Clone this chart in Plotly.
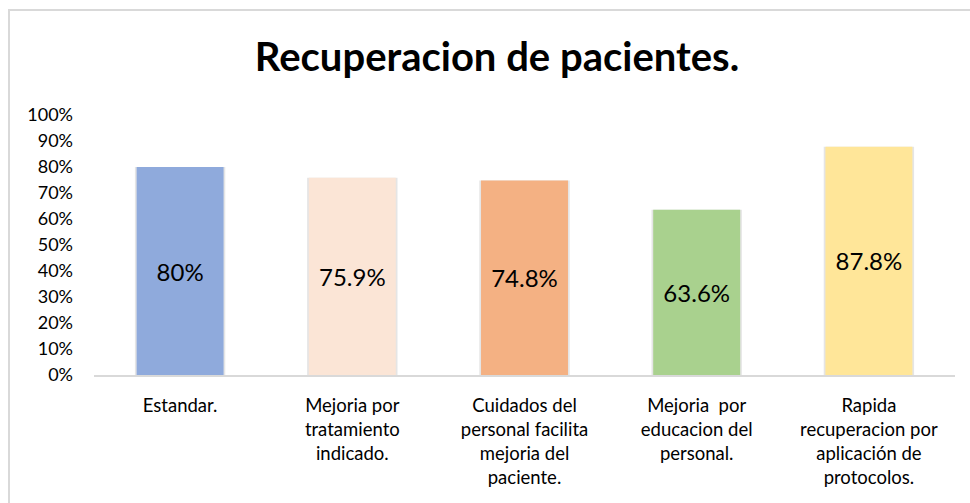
import plotly.graph_objects as go

categories = [
    "Estandar.",
    "Mejoria por<br>tratamiento<br>indicado.",
    "Cuidados del<br>personal facilita<br>mejoria del<br>paciente.",
    "Mejoria  por<br>educacion del<br>personal.",
    "Rapida<br>recuperacion por<br>aplicación de<br>protocolos.",
]
values = [0.80, 0.759, 0.748, 0.636, 0.878]
labels = ["80%", "75.9%", "74.8%", "63.6%", "87.8%"]
colors = ["#8FAADC", "#FBE5D6", "#F4B183", "#A9D18E", "#FFE699"]
tick_vals = [i / 10 for i in range(11)]
tick_text = [f"{i * 10}%" for i in range(11)]

FONT = "Lato, Open Sans, sans-serif"

fig = go.Figure()
# soft shadow behind bars
fig.add_trace(go.Bar(
    x=categories, y=values, width=0.525,
    marker=dict(color="rgba(0,0,0,0.10)", line=dict(width=0)),
    hoverinfo="skip", showlegend=False,
))
fig.add_trace(go.Bar(
    x=categories, y=values, width=0.505,
    marker=dict(color=colors, line=dict(width=0)),
    text=labels, textposition="inside", insidetextanchor="middle",
    textangle=0,
    textfont=dict(family=FONT, size=24, color="#000000"),
    showlegend=False,
))

fig.update_layout(
    width=970, height=503,
    barmode="overlay",
    paper_bgcolor="white", plot_bgcolor="white",
    margin=dict(l=94, r=15, t=115, b=128),
    title=dict(text="<b>Recuperacion de pacientes.</b>",
               font=dict(family=FONT, size=40, color="#000000"),
               xref="container", x=0.5124, xanchor="center",
               y=0.887, yanchor="middle"),
    uniformtext=dict(mode=False),
    font=dict(family=FONT),
)
fig.update_yaxes(
    range=[0, 1.0], tickvals=tick_vals, ticktext=tick_text,
    showgrid=False, zeroline=False, showline=False,
    tickfont=dict(family=FONT, size=18, color="#000000"),
    ticklabelstandoff=20,
)
fig.update_xaxes(
    showline=True, linecolor="#D9D9D9", linewidth=2,
    showgrid=False,
    tickfont=dict(family=FONT, size=18.5, color="#000000"),
    ticklabelstandoff=13,
)
# chart frame
fig.add_shape(type="rect", xref="paper", yref="paper",
              x0=-0.0987, x1=1.2, y0=-1.0, y1=1.4038,
              line=dict(color="#D9D9D9", width=2), fillcolor="rgba(0,0,0,0)",
              layer="below")

fig.write_html("out.html", config={"displayModeBar": False},
               post_script="document.body.style.margin='0';document.body.style.overflow='hidden';")
